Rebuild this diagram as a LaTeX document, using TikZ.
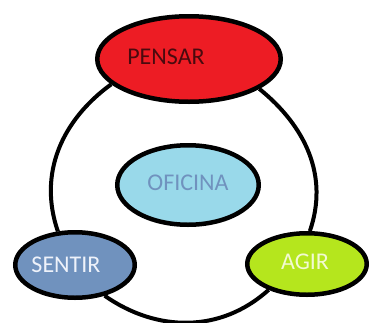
\documentclass[tikz,border=0pt]{standalone}
\usepackage{fontspec}
\setmainfont{Carlito}
\usetikzlibrary{shapes.geometric}
\definecolor{pensarred}{HTML}{ED1C24}
\definecolor{pensartxt}{HTML}{4A0A0E}
\definecolor{oficinafill}{HTML}{99D9EA}
\definecolor{oficinatxt}{HTML}{7092BE}
\definecolor{sentirfill}{HTML}{7092BE}
\definecolor{sentirtxt}{HTML}{EEF2FA}
\definecolor{agirfill}{HTML}{B5E61D}
\definecolor{agirtxt}{HTML}{F2FAD2}
\begin{document}
\begin{tikzpicture}[x=1pt,y=-1pt,
  bubble/.style={ellipse,draw=black,line width=4.5pt,inner sep=0pt},
  word/.style={font=\fontsize{24}{28}\selectfont},
  ring/.style={line width=4pt}]
\useasboundingbox (0,0) rectangle (370,322);
% the four ellipses
\node[bubble,fill=pensarred,minimum width=183.5pt,minimum height=85.5pt,
  label={[word,text=pensartxt,xshift=-23pt,yshift=2pt]center:PENSAR}] (pensar) at (189,59) {};
\node[bubble,fill=oficinafill,minimum width=141.5pt,minimum height=79.5pt,
  label={[word,text=oficinatxt,yshift=2pt]center:OFICINA}] (oficina) at (188,185) {};
\node[bubble,fill=sentirfill,minimum width=119.5pt,minimum height=65.5pt,
  label={[word,text=sentirtxt,xshift=-9pt]center:SENTIR}] (sentir) at (75,265) {};
\node[bubble,fill=agirfill,minimum width=119.5pt,minimum height=61.5pt,
  label={[word,text=agirtxt,xshift=-2pt,yshift=2pt]center:AGIR}] (agir) at (307,264) {};
% the ring round the middle
\draw[ring] (pensar.198) to[out=216,in=109] (sentir.117);
\draw[ring] (pensar.337) to[out=321,in=71] (agir.85);
\draw[ring] (sentir.314) to[out=325,in=222] (agir.214);
\end{tikzpicture}
\end{document}
